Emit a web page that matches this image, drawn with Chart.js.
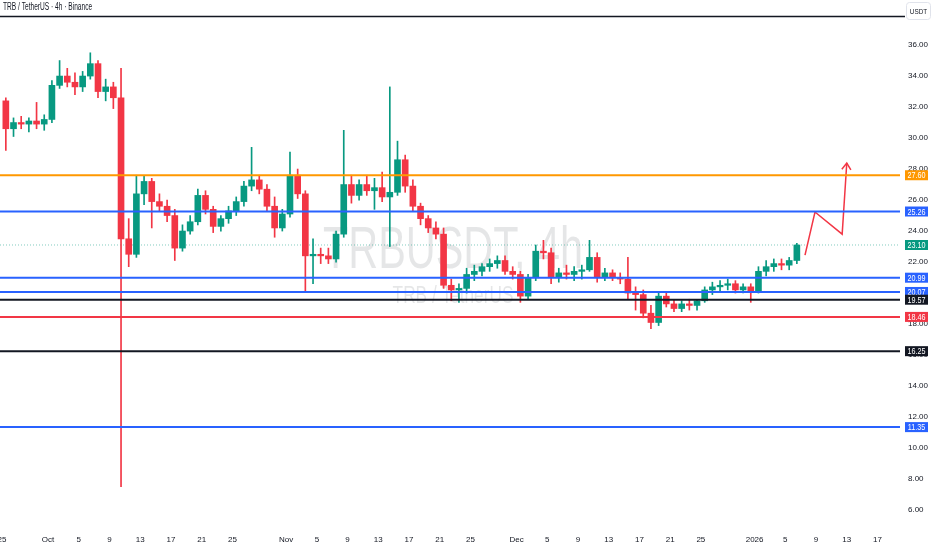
<!DOCTYPE html>
<html>
<head>
<meta charset="utf-8">
<title>TRBUSDT 4h</title>
<script src="https://cdn.jsdelivr.net/npm/chart.js@4.4.1/dist/chart.umd.min.js"></script>
<style>
  html, body { margin: 0; padding: 0; background: #fff; }
  canvas { display: block; }
</style>
</head>
<body>
<canvas id="chart" width="932" height="550"></canvas>
<script>
// daily candles, day 0 = Sep 25
const opens = [
  32.4, 30.6, 31.0, 30.9, 31.1, 30.9, 31.2, 33.4, 34.0, 33.6,
  33.3, 34.0, 34.8, 33.0, 33.3, 32.6, 23.5, 22.5, 26.4, 27.2,
  25.9, 25.6, 25.0, 22.9, 24.0, 24.6, 26.3, 25.4, 24.3, 24.8,
  25.3, 25.9, 26.9, 27.3, 26.7, 25.6, 24.2, 25.1, 27.6, 26.4,
  22.4, 22.5, 22.4, 22.2, 23.8, 27.0, 26.3, 27.0, 26.6, 26.8,
  26.2, 26.5, 28.6, 26.9, 25.6, 24.8, 24.2, 23.8, 20.5, 20.2,
  20.3, 21.2, 21.4, 21.7, 21.9, 22.1, 21.4, 21.2, 19.8, 21.0,
  22.7, 22.6, 21.0, 21.3, 21.2, 21.4, 21.5, 22.3, 21.0, 21.3,
  21.0, 20.9, 20.0, 19.9, 18.7, 18.1, 19.8, 19.3, 19.0, 19.3,
  19.2, 19.5, 20.2, 20.4, 20.5, 20.6, 20.2, 20.4, 20.1, 21.4,
  21.7, 21.9, 21.8, 22.1
];
const highs = [
  32.6, 31.3, 31.4, 31.3, 32.3, 31.5, 33.7, 35.0, 34.5, 34.2,
  34.3, 35.5, 35.0, 33.8, 33.6, 34.5, 24.8, 27.6, 27.6, 27.4,
  26.4, 26.0, 25.4, 24.4, 25.0, 26.7, 26.6, 25.6, 25.0, 25.6,
  26.2, 27.2, 29.4, 27.6, 27.0, 26.2, 25.4, 29.1, 28.0, 26.6,
  23.5, 22.9, 22.9, 24.0, 30.5, 27.6, 27.3, 27.6, 27.4, 27.8,
  33.3, 29.8, 28.9, 27.3, 25.8, 25.0, 24.6, 24.2, 20.9, 20.6,
  21.6, 21.8, 21.9, 22.2, 22.4, 22.4, 21.7, 21.4, 21.2, 23.1,
  23.4, 22.9, 21.6, 21.8, 21.7, 21.8, 23.4, 22.6, 21.6, 21.5,
  21.3, 22.3, 20.4, 20.2, 19.2, 20.1, 20.0, 19.6, 19.5, 19.6,
  19.6, 20.4, 20.7, 20.8, 20.9, 20.8, 20.6, 20.6, 21.7, 22.1,
  22.2, 22.2, 22.3, 23.2
];
const lows = [
  29.2, 30.1, 30.6, 30.4, 30.6, 30.5, 31.0, 33.2, 33.3, 32.8,
  33.0, 33.8, 32.6, 32.4, 31.9, 7.5, 21.7, 22.3, 25.7, 24.2,
  25.3, 24.6, 22.1, 22.7, 23.8, 24.4, 25.1, 23.9, 24.0, 24.5,
  25.0, 25.6, 26.6, 26.4, 25.3, 23.6, 24.0, 24.9, 26.1, 20.1,
  20.6, 21.9, 21.9, 22.0, 23.6, 25.8, 26.0, 26.3, 25.4, 25.9,
  23.0, 26.3, 26.5, 25.3, 24.4, 23.9, 23.5, 20.3, 19.5, 19.4,
  20.0, 20.8, 21.1, 21.4, 21.6, 21.2, 20.9, 19.4, 19.6, 20.8,
  22.2, 20.6, 20.7, 20.9, 20.8, 20.9, 21.4, 20.7, 20.8, 20.8,
  20.6, 19.6, 18.9, 18.4, 17.7, 17.9, 19.1, 18.8, 18.8, 18.9,
  18.9, 19.4, 19.9, 20.1, 20.2, 20.0, 20.0, 19.4, 20.0, 21.1,
  21.4, 21.5, 21.5, 21.9
];
const closes = [
  30.6, 31.0, 30.9, 31.1, 30.9, 31.2, 33.4, 34.0, 33.6, 33.3,
  34.0, 34.8, 33.0, 33.3, 32.6, 23.5, 22.5, 26.4, 27.2, 25.9,
  25.6, 25.0, 22.9, 24.0, 24.6, 26.3, 25.4, 24.3, 24.8, 25.3,
  25.9, 26.9, 27.3, 26.7, 25.6, 24.2, 25.1, 27.6, 26.4, 22.4,
  22.5, 22.4, 22.2, 23.8, 27.0, 26.3, 27.0, 26.6, 26.8, 26.2,
  26.5, 28.6, 26.9, 25.6, 24.8, 24.2, 23.8, 20.5, 20.2, 20.3,
  21.2, 21.4, 21.7, 21.9, 22.1, 21.4, 21.2, 19.8, 21.0, 22.7,
  22.6, 21.0, 21.3, 21.2, 21.4, 21.5, 22.3, 21.0, 21.3, 21.0,
  20.9, 20.0, 19.9, 18.7, 18.1, 19.8, 19.3, 19.0, 19.3, 19.2,
  19.5, 20.2, 20.4, 20.5, 20.6, 20.2, 20.4, 20.1, 21.4, 21.7,
  21.9, 21.8, 22.1, 23.1
];

// horizontal levels drawn on the chart
const levelValues = [27.60, 25.26, 20.99, 20.07, 19.57, 18.46, 16.25, 11.35];
const levelColors = ['#ff9800', '#2962ff', '#2962ff', '#2962ff', '#131722', '#f23645', '#131722', '#2962ff'];
const lastPrice = 23.10;

// projected path (red arrow)
const arrowDays = [104.56, 105.86, 109.4, 110.0];
const arrowPrices = [22.45, 25.23, 23.8, 28.39];

// axis ticks
const tickDays = [0, 6, 10, 14, 18, 22, 26, 30, 37, 41, 45, 49, 53, 57, 61, 67, 71, 75, 79, 83, 87, 91, 98, 102, 106, 110, 114];
const tickLabels = ['25', 'Oct', '5', '9', '13', '17', '21', '25', 'Nov', '5', '9', '13', '17', '21', '25', 'Dec', '5', '9', '13', '17', '21', '25', '2026', '5', '9', '13', '17'];
const priceTicks = [6, 8, 10, 12, 14, 16, 18, 20, 22, 24, 26, 28, 30, 32, 34, 36];

const X_MIN = -0.26, X_MAX = 116.93;
const Y_MIN = 4.97, Y_MAX = 37.81;

const UP = '#089981';
const DOWN = '#f23645';
const FONT = "'Liberation Sans', Arial, sans-serif";

const candleColors = closes.map((c, i) => c >= opens[i] ? UP : DOWN);

const datasets = [];

levelValues.forEach((v, i) => {
    datasets.push({
        type: 'line',
        data: [{x: X_MIN, y: v}, {x: X_MAX, y: v}],
        borderColor: levelColors[i],
        borderWidth: 2,
        pointRadius: 0,
        order: 0
    });
});

datasets.push({
    type: 'line',
    data: [{x: X_MIN, y: lastPrice}, {x: X_MAX, y: lastPrice}],
    borderColor: 'rgba(8,153,129,0.5)',
    borderWidth: 1,
    borderDash: [1, 2],
    pointRadius: 0,
    order: 4
});

datasets.push({
    type: 'line',
    data: arrowDays.map((d, i) => ({x: d, y: arrowPrices[i]})),
    borderColor: DOWN,
    borderWidth: 1.5,
    pointRadius: 0,
    tension: 0,
    order: 0
});

datasets.push({
    type: 'bar',
    data: lows.map((l, i) => ({x: i + 0.5, y: [l, highs[i]]})),
    backgroundColor: candleColors,
    barThickness: 1,
    grouped: false,
    order: 3
});

datasets.push({
    type: 'bar',
    data: opens.map((o, i) => ({x: i + 0.5, y: [o, closes[i]]})),
    backgroundColor: candleColors,
    barThickness: 6,
    minBarLength: 1,
    grouped: false,
    order: 2
});

// condensed text helper (the reference text is narrow)
function narrowText(ctx, text, x, y, sx) {
    ctx.save();
    ctx.translate(x, y);
    ctx.scale(sx, 1);
    ctx.fillText(text, 0, 0);
    ctx.restore();
}

const overlay = {
    id: 'overlay',
    beforeDatasetsDraw(chart) {
        const ctx = chart.ctx;
        const a = chart.chartArea;
        const cx = (a.left + a.right) / 2 + 3;
        const cy = (a.top + a.bottom) / 2;
        ctx.save();
        ctx.fillStyle = 'rgba(19,23,34,0.11)';
        ctx.textAlign = 'center';
        ctx.textBaseline = 'alphabetic';
        ctx.font = '60px ' + FONT;
        narrowText(ctx, 'TRBUSDT, 4h', cx, cy - 4, 0.69);
        ctx.font = '23px ' + FONT;
        narrowText(ctx, 'TRB / TetherUS', cx, cy + 31, 0.75);
        ctx.restore();
    },
    afterDraw(chart) {
        const ctx = chart.ctx;
        const a = chart.chartArea;
        const xs = chart.scales.x;
        const ys = chart.scales.y;
        ctx.save();

        // top border and title
        ctx.strokeStyle = '#131722';
        ctx.lineWidth = 1.5;
        ctx.beginPath();
        ctx.moveTo(0, a.top - 0.5);
        ctx.lineTo(a.right + 5, a.top - 0.5);
        ctx.stroke();
        ctx.fillStyle = '#131722';
        ctx.font = '10px ' + FONT;
        ctx.textAlign = 'left';
        ctx.textBaseline = 'middle';
        narrowText(ctx, 'TRB / TetherUS \u00b7 4h \u00b7 Binance', 3, 7, 0.66);

        // currency box
        ctx.strokeStyle = '#e0e3eb';
        ctx.lineWidth = 1;
        ctx.beginPath();
        ctx.roundRect(ys.left + 6.5, 2.5, 24, 17, 3);
        ctx.stroke();
        ctx.textAlign = 'center';
        ctx.font = '8px ' + FONT;
        narrowText(ctx, 'USDT', ys.left + 18.5, 11.5, 0.8);

        // price labels for levels
        const boxes = levelValues.map((v, i) => ({v: v, c: levelColors[i]}));
        boxes.push({v: lastPrice, c: UP});
        ctx.font = '9px ' + FONT;
        boxes.forEach(b => {
            const y = ys.getPixelForValue(b.v);
            ctx.fillStyle = b.c;
            ctx.fillRect(ys.left + 5, y - 5, 23, 10);
            ctx.fillStyle = '#fff';
            narrowText(ctx, b.v.toFixed(2), ys.left + 16.5, y + 0.5, 0.8);
        });

        // arrow head on projection
        const n = arrowDays.length;
        const x1 = xs.getPixelForValue(arrowDays[n - 2]), y1 = ys.getPixelForValue(arrowPrices[n - 2]);
        const x2 = xs.getPixelForValue(arrowDays[n - 1]), y2 = ys.getPixelForValue(arrowPrices[n - 1]);
        const ang = Math.atan2(y2 - y1, x2 - x1);
        const len = 8;
        ctx.strokeStyle = DOWN;
        ctx.lineWidth = 1.5;
        ctx.beginPath();
        ctx.moveTo(x2 - len * Math.cos(ang - 0.6), y2 - len * Math.sin(ang - 0.6));
        ctx.lineTo(x2, y2);
        ctx.lineTo(x2 - len * Math.cos(ang + 0.6), y2 - len * Math.sin(ang + 0.6));
        ctx.stroke();
        ctx.restore();
    }
};

new Chart(document.getElementById('chart'), {
    type: 'bar',
    data: {datasets: datasets},
    plugins: [overlay],
    options: {
        responsive: false,
        animation: false,
        layout: {padding: {top: 17, left: 0, right: 0, bottom: 0}},
        plugins: {
            legend: {display: false},
            tooltip: {enabled: false}
        },
        scales: {
            x: {
                type: 'linear',
                min: X_MIN,
                max: X_MAX,
                offset: false,
                grid: {display: false, drawTicks: false},
                border: {display: false},
                afterBuildTicks: (s) => { s.ticks = tickDays.map(v => ({value: v})); },
                afterFit: (s) => { s.height = 24; s.paddingLeft = 0; s.paddingRight = 0; },
                ticks: {
                    autoSkip: false,
                    maxRotation: 0,
                    padding: 9,
                    color: '#131722',
                    font: {size: 8, family: FONT},
                    callback: (v) => {
                        const k = tickDays.indexOf(v);
                        return k >= 0 ? tickLabels[k] : '';
                    }
                }
            },
            y: {
                position: 'right',
                min: Y_MIN,
                max: Y_MAX,
                grid: {display: false, drawTicks: false},
                border: {display: false},
                afterBuildTicks: (s) => { s.ticks = priceTicks.map(v => ({value: v})); },
                afterFit: (s) => { s.width = 32; },
                ticks: {
                    padding: 8,
                    color: '#131722',
                    font: {size: 8, family: FONT},
                    callback: (v) => v.toFixed(2)
                }
            }
        }
    }
});
</script>
</body>
</html>
